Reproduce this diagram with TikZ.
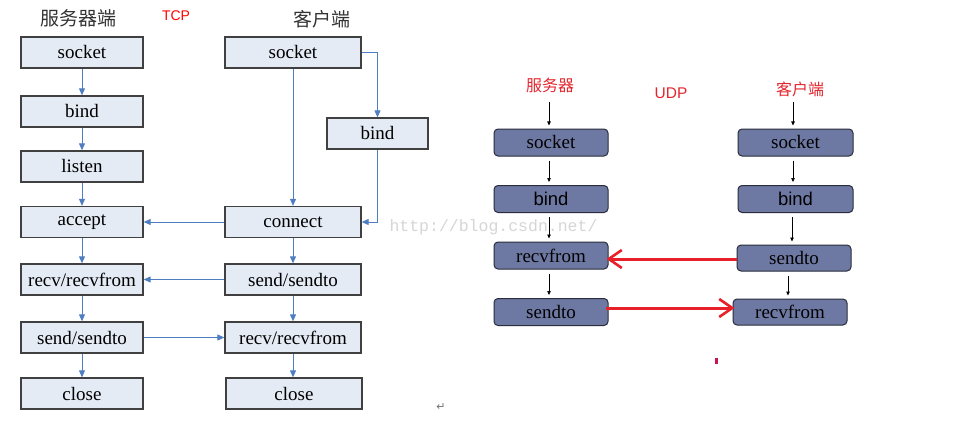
\documentclass[tikz,border=0pt]{standalone}
\usepackage{fontspec}
\setmainfont{Liberation Serif}
\newfontfamily\cjkfont{Noto Sans CJK SC}
\newfontfamily\arialfont{Liberation Sans}
\newfontfamily\monofont{Liberation Mono}
\newfontfamily\dejavu{DejaVu Sans}
\usetikzlibrary{arrows.meta}
\definecolor{tcpfill}{HTML}{E4EBF5}
\definecolor{tcpline}{HTML}{4F7EC0}
\definecolor{boxedge}{HTML}{404040}
\definecolor{udpfill}{HTML}{6E79A3}
\definecolor{udpedge}{HTML}{2A2D3C}
\definecolor{redtxt}{HTML}{E3262E}
\definecolor{redarrow}{HTML}{E8202A}
\definecolor{wmark}{HTML}{D6D6D6}
\definecolor{reddot}{HTML}{C8174F}
\tikzset{
  tcpbox/.style={draw=boxedge, line width=1.3pt, fill=tcpfill, minimum height=31pt, inner sep=0pt,
    font=\fontsize{19}{19}\selectfont},
  udpbox/.style={draw=udpedge, line width=1pt, fill=udpfill, rounded corners=4pt, minimum width=114pt,
    minimum height=27pt, inner sep=0pt, font=\fontsize{19}{19}\selectfont},
  tcparrow/.style={draw=tcpline, line width=0.9pt, -{Triangle[length=7pt,width=6pt]}},
  udparrow/.style={draw=black, line width=0.7pt, -{Triangle[length=4pt,width=3.5pt]}, shorten >=3pt, shorten <=4pt},
  redarr/.style={draw=redarrow, line width=3pt, -{Straight Barb[length=13pt,width=18pt,line width=2.6pt]}},
  title/.style={font=\cjkfont\fontsize{19}{19}\selectfont, text=black!80},
  udptitle/.style={font=\cjkfont\fontsize{16}{16}\selectfont, text=redtxt},
}
\begin{document}
\begin{tikzpicture}[x=1pt,y=-1pt]
\useasboundingbox (0,0) rectangle (968,433);
\fill[white] (0,0) rectangle (968,433);

% ---------- TCP ----------
\node[title] (ts) at (78,18) {服务器端};
\node[font=\arialfont\fontsize{14}{14}\selectfont, text=red] (tcp) at (176,16) {TCP};
\node[title] (tc) at (322,19) {客户端};

% server column
\node[tcpbox, minimum width=122pt] (ssock) at (82,52.5) {socket};
\node[tcpbox, minimum width=122pt] (sbind) at (82,111.5) {bind};
\node[tcpbox, minimum width=122pt] (slisten) at (82,166.5) {listen};
\node[tcpbox, minimum width=122pt] (saccept) at (82,222) {accept};
\node[tcpbox, minimum width=122pt] (srecv) at (82,279.5) {recv/recvfrom};
\node[tcpbox, minimum width=122pt] (ssend) at (82,337.5) {send/sendto};
\node[tcpbox, minimum width=122pt] (sclose) at (82,393.5) {close};

% client column
\node[tcpbox, minimum width=136pt] (csock) at (293,52.5) {socket};
\node[tcpbox, minimum width=101pt] (cbind) at (377.5,133.5) {bind};
\node[tcpbox, minimum width=136pt] (cconn) at (293,222) {connect};
\node[tcpbox, minimum width=136pt] (csend) at (293,279.5) {send/sendto};
\node[tcpbox, minimum width=136pt] (crecv) at (293,337.5) {recv/recvfrom};
\node[tcpbox, minimum width=136pt] (cclose) at (294,393.5) {close};

\draw[tcparrow] (ssock) -- (sbind);
\draw[tcparrow] (sbind) -- (slisten);
\draw[tcparrow] (slisten) -- (saccept);
\draw[tcparrow] (saccept) -- (srecv);
\draw[tcparrow] (srecv) -- (ssend);
\draw[tcparrow] (ssend) -- (sclose);

\draw[tcparrow] (csock) -- (cconn);
\draw[tcparrow] (csock.east) -| (cbind.north);
\draw[tcparrow] (cbind.south) |- (cconn.east);
\draw[tcparrow] (cconn) -- (csend);
\draw[tcparrow] (csend) -- (crecv);
\draw[tcparrow] (crecv.south) -- (crecv.south |- cclose.north);

\draw[tcparrow] (cconn) -- (saccept);
\draw[tcparrow] (csend) -- (srecv);
\draw[tcparrow] (ssend) -- (crecv);

% watermark
\node[font=\monofont\fontsize{16.5}{16.5}\selectfont, text=wmark, anchor=west] (wm) at (386,227) {http://blog.csdn.net/};
\node[font=\dejavu\fontsize{11}{11}\selectfont, text=black!55] (ret) at (441,407) {↵};

% ---------- UDP ----------
\node[udptitle] (us) at (550,85) {服务器};
\node[font=\arialfont\fontsize{15.5}{15.5}\selectfont, text=redtxt] (udp) at (671,93) {UDP};
\node[udptitle] (uc) at (800,89) {客户端};

\node[udpbox] (usock) at (551,142.5) {socket};
\node[udpbox, font=\arialfont\fontsize{18.5}{18.5}\selectfont] (ubind) at (551,199) {bind};
\node[udpbox] (urecv) at (551,255.5) {recvfrom};
\node[udpbox] (usend) at (551,312) {sendto};

\node[udpbox, minimum width=115pt] (vsock) at (795.5,142.5) {socket};
\node[udpbox, minimum width=115pt, font=\arialfont\fontsize{18.5}{18.5}\selectfont] (vbind) at (795.5,199) {bind};
\node[udpbox, minimum height=26pt] (vsend) at (794,258) {sendto};
\node[udpbox, minimum height=26pt] (vrecv) at (790,312) {recvfrom};

\coordinate (usA) at (549,98);
\coordinate (ucA) at (793,98);
\draw[udparrow] (usA) -- (usA |- usock.north);
\draw[udparrow] (ucA) -- (ucA |- vsock.north);
\draw[udparrow] ([xshift=-2pt]usock.south) -- ([xshift=-2pt]ubind.north);
\draw[udparrow] ([xshift=-2pt]ubind.south) -- ([xshift=-2pt]urecv.north);
\draw[udparrow] ([xshift=-2pt]urecv.south) -- ([xshift=-2pt]usend.north);
\draw[udparrow] ([xshift=-2.5pt]vsock.south) -- ([xshift=-2.5pt]vbind.north);
\draw[udparrow] ([xshift=-3.5pt]vbind.south) -- ([xshift=-3.5pt]vbind.south |- vsend.north);
\draw[udparrow] ([xshift=-6pt]vsend.south) -- ([xshift=-6pt]vsend.south |- vrecv.north);

\coordinate (r1s) at ([yshift=-1pt]vsend.west);
\coordinate (r1e) at ([xshift=-2pt]urecv.east);
\draw[redarr] (r1s) -- (r1e |- r1s);
\coordinate (r2s) at ([xshift=-3pt,yshift=4pt]usend.east);
\coordinate (r2e) at ([xshift=2pt,yshift=4pt]vrecv.west);
\draw[redarr] (r2s) -- (r2e);

\fill[reddot] (715,358) rectangle (718,364);
\end{tikzpicture}
\end{document}
